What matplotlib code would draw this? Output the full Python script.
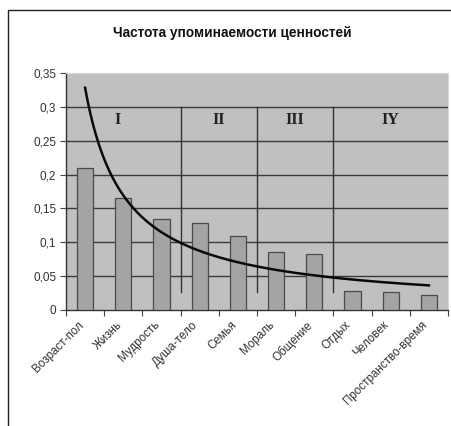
import numpy as np
import matplotlib
matplotlib.use("Agg")
import matplotlib.pyplot as plt
from matplotlib.patches import Rectangle

categories = ["Возраст-пол", "Жизнь", "Мудрость", "Душа-тело", "Семья",
              "Мораль", "Общение", "Отдых", "Человек", "Пространство-время"]
values = [0.21, 0.165, 0.135, 0.128, 0.11, 0.086, 0.083, 0.028, 0.027, 0.022]
section_labels = ["I", "II", "III", "IY"]
section_bounds = [(-0.5, 2.5), (2.5, 4.5), (4.5, 6.5), (6.5, 9.5)]
yticks = [0, 0.05, 0.1, 0.15, 0.2, 0.25, 0.3, 0.35]
ytick_labels = ["0", "0,05", "0,1", "0,15", "0,2", "0,25", "0,3", "0,35"]
title = "Частота упоминаемости ценностей"

plt.rcParams['font.family'] = ['Liberation Sans', 'DejaVu Sans']

fig = plt.figure(figsize=(4.51, 4.26), dpi=100)
fig.patch.set_facecolor("white")
# outer chart border (cropped on right and bottom)
fig.add_artist(Rectangle((8/451, -0.05), 1.2, 1 - 10/426 + 0.05,
                         transform=fig.transFigure, fill=False,
                         edgecolor="#222222", linewidth=1.0))

ax = fig.add_axes([66/451, 1 - 310/426, (448 - 66)/451, (310 - 73)/426])
ax.set_facecolor("#c0c0c0")

x = np.arange(len(categories))
ax.bar(x, values, width=0.42, color="#a4a4a4", edgecolor="#4a4a4a",
       linewidth=0.9, zorder=3)

# power trendline fitted to the data
lx = np.log(x + 1)
ly = np.log(values)
b, lna = np.polyfit(lx, ly, 1)
xs = np.linspace(1, len(categories), 200)
ax.plot(xs - 1, np.exp(lna) * xs ** b, color="#0a0a0a", linewidth=1.8, zorder=4)

# section dividers
for lo, hi in section_bounds[1:]:
    ax.plot([lo, lo], [0.027, 0.3], color="#333333", linewidth=1.0, zorder=2)
for (lo, hi), lab in zip(section_bounds, section_labels):
    cx = (lo + hi) / 2 - (0.15 if lab == "I" else 0)
    ax.text(cx, 0.281, lab, ha="center", va="center", fontsize=11.5,
            fontweight="bold", family=["Liberation Serif", "DejaVu Serif"],
            color="#222222", zorder=5)

ax.set_xlim(-0.5, len(categories) - 0.5)
ax.set_ylim(0, 0.35)
ax.set_yticks(yticks)
ax.set_yticklabels(ytick_labels, fontsize=8.5, color="#333333")
for yv in yticks[1:-1]:
    ax.axhline(yv, color="#3a3a3a", linewidth=1.0, zorder=1)

ax.set_xticks(np.arange(-0.5, len(categories), 1.0))
ax.set_xticklabels([])
ax.tick_params(axis="x", direction="out", length=4, color="#444444")
ax.tick_params(axis="y", direction="out", length=4, color="#444444", pad=3)
for i, c in enumerate(categories):
    ax.text(i - 0.2, -0.013, c, rotation=45, ha="right", va="top",
            fontsize=8.4, color="#333333", rotation_mode="anchor")

for s in ["left", "bottom"]:
    ax.spines[s].set_color("#333333")
    ax.spines[s].set_linewidth(1.0)
ax.spines["top"].set_color("#d8d8d8")
ax.spines["right"].set_color("#d8d8d8")

fig.text(232/451, 1 - 33/426, title, ha="center", va="center",
         fontsize=9.8, fontweight="bold", color="#111111")

fig.savefig("out.png", dpi=100)
